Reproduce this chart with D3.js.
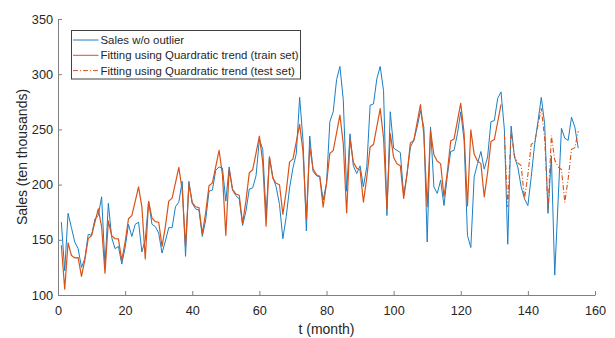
<!DOCTYPE html>
<html>
<head>
<meta charset="utf-8">
<script src="https://cdn.jsdelivr.net/npm/d3@7"></script>
<style>
  html, body { margin: 0; padding: 0; background: #fff; }
  svg { display: block; }
  text { font-family: "Liberation Sans", Arial, sans-serif; fill: #262626; }
</style>
</head>
<body>
<svg id="chart" width="615" height="338"></svg>
<script>
// ---- data ----
const salesNoOutlier = [
  166,122,174,161,148,142,125,133,155,154,169,172,
  189,126,183,152,142,144,128,143,164,153,164,166,
  139,150,185,164,162,156,138,149,161,161,180,184,
  203,135,203,183,178,177,153,168,194,195,213,216,
  215,185,216,195,190,187,163,176,196,197,208,241,
  232,172,225,207,198,182,151,171,197,215,228,279,
  240,158,244,212,208,207,186,201,257,266,295,307,
  277,194,246,217,210,217,198,216,272,273,296,307,
  285,172,266,233,231,229,190,210,234,240,252,267,
  252,148,252,198,192,204,181,208,230,231,246,266,
  240,154,143,207,219,230,214,225,257,258,278,284,
  250,146,253,225,216,198,187,181,207,236,257,279,
  255,174,226,118,185,251,242,240,261,252,233
];
const fitTrain = [
  145,105.3,147.3,135.8,133.7,133.9,116.8,131.9,151.1,153.9,165.9,178.0,
  161.8,119.8,167.1,153.7,151.0,150.8,131.3,147.9,169.1,171.9,184.9,198.0,
  179.6,132.7,184.8,169.7,166.4,165.9,144.1,162.2,185.0,187.8,201.6,215.7,
  195.3,144.1,200.4,183.7,179.9,179.1,155.4,174.6,198.9,201.6,216.2,231.0,
  208.9,154.0,213.8,195.8,191.5,190.4,165.0,185.2,210.8,213.4,228.6,244.0,
  220.4,162.3,225.1,205.9,201.2,199.9,173.1,194.0,220.6,223.1,238.8,254.6,
  229.8,169.0,234.3,214.1,209.0,207.5,179.5,201.0,228.4,230.8,246.8,262.9,
  237.1,174.3,241.3,220.3,214.9,213.2,184.2,206.2,234.1,236.4,252.6,268.8,
  242.3,177.9,246.2,224.6,218.9,217.0,187.4,209.6,237.8,239.9,256.2,272.4,
  245.4,180.0,248.9,227.0,221.1,219.0,189.0,211.2,239.4,241.4,257.5,273.7,
  246.3,180.6,249.6,227.4,221.3,219.0,188.9,210.9,239.0,240.8,256.7,272.6
];
const fitTestStart = 133;
const fitTest = [
  245.2,179.7,248.1,225.8,219.6,217.2,187.2,208.9,236.5,238.1,253.7,269.2,
  241.9,177.2,244.4,222.3,216.1,213.6,183.9,205.1,232.0,233.4,248.5
];
const xTicks = [0,20,40,60,80,100,120,140,160];
const yTicks = [100,150,200,250,300,350];
const legendLabels = [
  "Sales w/o outlier",
  "Fitting using Quardratic trend (train set)",
  "Fitting using Quardratic trend (test set)"
];
const xLabel = "t (month)";
const yLabel = "Sales (ten thousands)";

// ---- drawing ----
const svg = d3.select("#chart");
svg.append("rect").attr("width",615).attr("height",338).attr("fill","#fff");

const x = d3.scaleLinear().domain([0,160]).range([58,595]);
const y = d3.scaleLinear().domain([100,350]).range([295,19]);

const blue = "#1a7fc4", orange = "#D95319";

const line = d3.line().x(d => x(d.t)).y(d => y(d.v));
const blueData = salesNoOutlier.map((v,i) => ({t:i+1, v}));
const trainData = fitTrain.map((v,i) => ({t:i+1, v}));
const testData = fitTest.map((v,i) => ({t:fitTestStart+i, v}));

const plot = svg.append("g");
plot.append("path").datum(blueData).attr("d",line)
  .attr("fill","none").attr("stroke",blue).attr("stroke-width",1).attr("stroke-linejoin","round");
plot.append("path").datum(trainData).attr("d",line)
  .attr("fill","none").attr("stroke",orange).attr("stroke-width",1.2).attr("stroke-linejoin","round");
plot.append("path").datum(testData).attr("d",line)
  .attr("fill","none").attr("stroke",orange).attr("stroke-width",1.1)
  .attr("stroke-dasharray","5,2,1,2");

// axes
const axisColor = "#808080";
const gx = svg.append("g").attr("transform","translate(0,295)")
  .call(d3.axisBottom(x).tickValues(xTicks).tickSizeInner(-4).tickSizeOuter(0).tickPadding(11));
const gy = svg.append("g").attr("transform","translate(58,0)")
  .call(d3.axisLeft(y).tickValues(yTicks).tickSizeInner(-4).tickSizeOuter(0).tickPadding(5));
[gx,gy].forEach(g => {
  g.select(".domain").attr("stroke",axisColor);
  g.selectAll(".tick line").attr("stroke",axisColor);
  g.selectAll(".tick text").attr("font-size","12.7px").attr("fill","#262626")
    .attr("font-family","'Liberation Sans', Arial, sans-serif");
});

svg.append("text").attr("x",326.5).attr("y",334).attr("text-anchor","middle")
  .attr("font-size","14px").text(xLabel);
svg.append("text").attr("transform","translate(22,157) rotate(-90)")
  .attr("text-anchor","middle").attr("dominant-baseline","central")
  .attr("font-size","14px").text(yLabel);

// legend
const lg = svg.append("g");
lg.append("rect").attr("x",71.5).attr("y",30.5).attr("width",229).attr("height",48.5)
  .attr("fill","#fff").attr("stroke","#404040").attr("stroke-width",1);
const rows = [40, 55.3, 70.6];
const styles = [
  {c: blue, dash: null},
  {c: orange, dash: null},
  {c: orange, dash: "5,2,1,2"}
];
legendLabels.forEach((lab,i) => {
  const l = lg.append("line").attr("x1",73).attr("x2",98.5).attr("y1",rows[i]).attr("y2",rows[i])
    .attr("stroke",styles[i].c).attr("stroke-width",1);
  if (styles[i].dash) l.attr("stroke-dasharray",styles[i].dash);
  lg.append("text").attr("x",100.5).attr("y",rows[i]).attr("dominant-baseline","central")
    .attr("font-size","11.4px").text(lab);
});
</script>
</body>
</html>
